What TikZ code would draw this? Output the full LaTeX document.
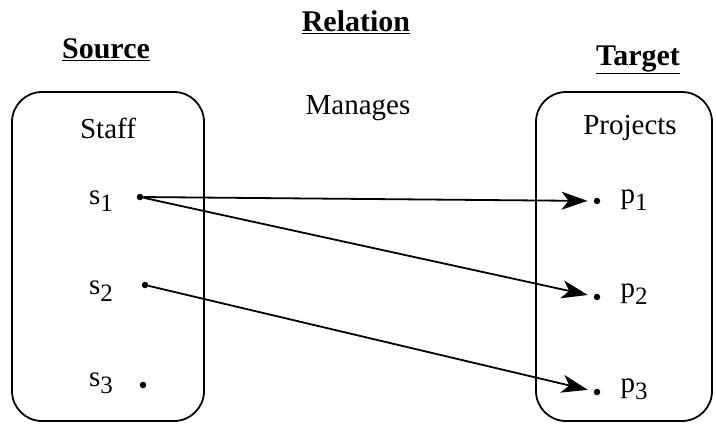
\documentclass[tikz,border=0pt]{standalone}
\usepackage{fontspec}
\setmainfont{Liberation Serif}
\usetikzlibrary{arrows.meta}
\newcommand{\idx}[1]{\raisebox{-0.5ex}{\fontsize{25}{25}\selectfont #1}}
\tikzset{
  title/.style={font=\fontsize{30}{30}\selectfont\bfseries},
  setbox/.style={line width=1.8pt, rounded corners=30pt},
  elem/.style={circle, fill, inner sep=0pt, minimum size=6.5pt},
  lbl/.style={font=\fontsize{29}{30}\selectfont},
  maps/.style={line width=1.8pt, -{Stealth[length=26pt,width=18pt,inset=7pt]}, shorten >=6pt}
}
\begin{document}
\begin{tikzpicture}[x=1pt,y=-1pt]
		\useasboundingbox (0,0) rectangle (716,424);
		\node[title] (rel) at (356,22) {\underline{Relation}};
		\node[title] (src) at (106,50) {\underline{Source}};
		\node[title] (tgt) at (638,60) {\underline{Target}};
		\draw[setbox] (12,92) rectangle (204,421);
		\draw[setbox] (536,92) rectangle (712,421);
		\node[lbl] (staff) at (108,128) {Staff};
		\node[lbl] (projects) at (630,128) {Projects};
		\node[lbl] (manages) at (358,108) {Manages};
		\node[elem] (s1) at (140,197) {};
		\node[elem] (s2) at (145,285) {};
		\node[elem] (s3) at (143,385) {};
		\node[elem] (p1) at (597,201) {};
		\node[elem] (p2) at (597,297) {};
		\node[elem] (p3) at (597,392) {};
		\node[lbl] at (101,201) {s\idx{1}};
		\node[lbl] at (101,291) {s\idx{2}};
		\node[lbl] at (101,383) {s\idx{3}};
		\node[lbl] at (634,200) {p\idx{1}};
		\node[lbl] at (634,294) {p\idx{2}};
		\node[lbl] at (634,389) {p\idx{3}};
		\draw[maps] (s1) -- (p1);
		\draw[maps] (s1) -- (p2);
		\draw[maps] (s2) -- (p3);
\end{tikzpicture}
\end{document}
